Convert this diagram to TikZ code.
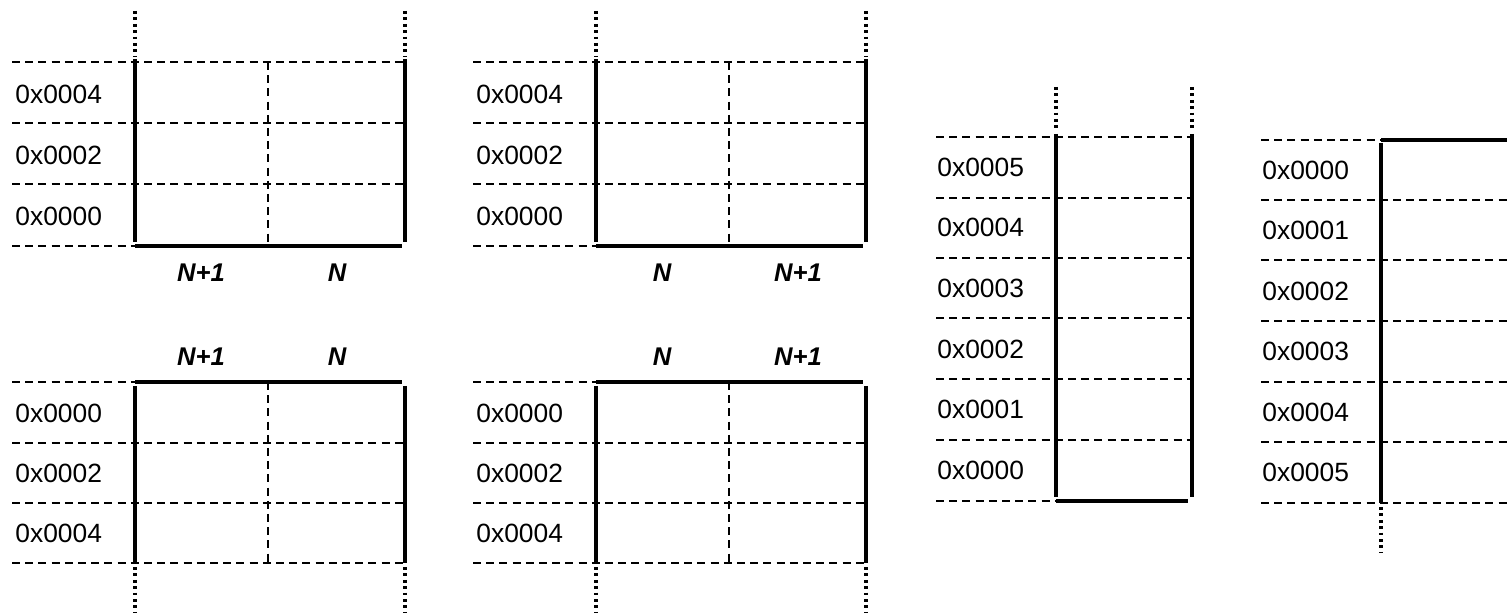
\documentclass[tikz,border=0pt]{standalone}
\usepackage{fontspec}
\setmainfont{Liberation Sans}
\begin{document}
\begin{tikzpicture}[x=0.5pt,y=-0.5pt,
  grid/.style={line width=0.6pt,dash pattern=on 4pt off 2.6pt},
  wall/.style={line width=1.8pt},
  cont/.style={line width=2pt,dash pattern=on 1.4pt off 1.8pt},
  addr/.style={anchor=west,inner sep=0pt,font=\fontsize{13.2}{15}\selectfont},
  byte/.style={inner sep=0pt,font=\fontsize{12.8}{15}\selectfont\bfseries\itshape}]
\useasboundingbox (0,0) rectangle (1507,613);

% two-byte wide memory, addresses growing upwards (top row)
\foreach \ox/\la/\lb [count=\i] in {0/N+1/N, 461/N/N+1} {
  \begin{scope}[xshift=\ox*0.5pt]
    \foreach \y in {62,123,184} \draw[grid] (12,\y) -- (405,\y);
    \draw[grid] (12,246) -- (135,246);
    \draw[grid] (268,62) -- (268,246);
    \draw[wall] (135,59) -- (135,242);
    \draw[wall] (405,59) -- (405,242);
    \draw[wall] (135,246) -- (402,246);
    \draw[cont] (135,11) -- (135,56);
    \draw[cont] (405,11) -- (405,56);
    \node[addr] (ua\i) at (15,94) {0x0004};
    \node[addr] (ub\i) at (15,155) {0x0002};
    \node[addr] (uc\i) at (15,216) {0x0000};
    \node[byte] (ul\i) at (201,273) {\la};
    \node[byte] (ur\i) at (337,273) {\lb};
  \end{scope}
}

% two-byte wide memory, addresses growing downwards (bottom row)
\foreach \ox/\la/\lb [count=\i] in {0/N+1/N, 461/N/N+1} {
  \begin{scope}[xshift=\ox*0.5pt]
    \draw[grid] (12,382) -- (135,382);
    \foreach \y in {443,503,563} \draw[grid] (12,\y) -- (405,\y);
    \draw[grid] (268,382) -- (268,563);
    \draw[wall] (135,382) -- (402,382);
    \draw[wall] (135,386) -- (135,563);
    \draw[wall] (405,386) -- (405,563);
    \draw[cont] (135,567) -- (135,613);
    \draw[cont] (405,567) -- (405,613);
    \node[addr] (da\i) at (15,413) {0x0000};
    \node[addr] (db\i) at (15,473) {0x0002};
    \node[addr] (dc\i) at (15,533) {0x0004};
    \node[byte] (dl\i) at (201,357) {\la};
    \node[byte] (dr\i) at (337,357) {\lb};
  \end{scope}
}

% one-byte wide memory, addresses growing upwards
\foreach \y in {137,198,258,318,379,440} \draw[grid] (936,\y) -- (1192,\y);
\draw[grid] (936,501) -- (1056,501);
\draw[wall] (1056,134) -- (1056,497);
\draw[wall] (1192,134) -- (1192,497);
\draw[wall] (1056,501) -- (1188,501);
\draw[cont] (1056,87) -- (1056,131);
\draw[cont] (1192,87) -- (1192,131);
\foreach \a [count=\k] in {5,4,3,2,1,0}
  \node[addr] (s\k) at (937,{137+60.6*(\k-0.5)}) {0x000\a};

% one-byte wide memory, addresses growing downwards
\draw[grid] (1261,140) -- (1381,140);
\foreach \y in {200,260,321,382,442,503} \draw[grid] (1261,\y) -- (1507,\y);
\draw[wall] (1381,140) -- (1507,140);
\draw[wall] (1381,143) -- (1381,503);
\draw[cont] (1381,507) -- (1381,553);
\foreach \a [count=\k] in {0,1,2,3,4,5}
  \node[addr] (t\k) at (1262,{140+60.5*(\k-0.5)}) {0x000\a};
\end{tikzpicture}
\end{document}
